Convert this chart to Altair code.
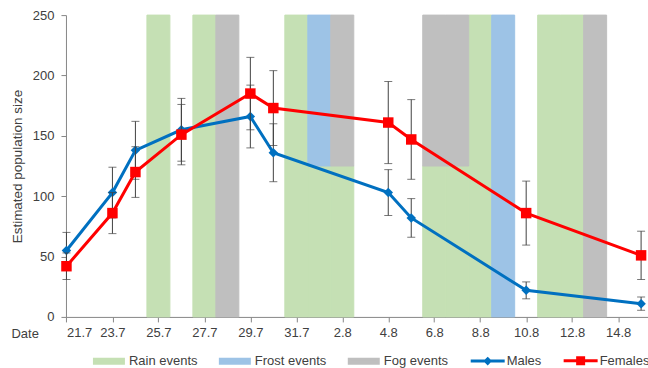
import altair as alt
import pandas as pd

# Survey days, counted from 21 July (day 0)
days = [0, 2, 3, 5, 8, 9, 14, 15, 20, 25]
males = [55, 103, 138, 155, 166, 136, 103, 82, 22, 11]
male_err = [15, 21, 24, 26, 26, 24, 19, 16, 7, 5.5]
females = [42, 86, 120, 151, 185, 173, 161, 147, 86, 51]
female_err = [11, 17, 21, 25, 30, 31, 34, 33, 26.5, 20]

# Weather events per day (stacked column heights)
event_days = [4, 6, 7, 10, 11, 12, 16, 17, 18, 19, 21, 22, 23]
rain = [250, 250, 0, 250, 125, 125, 125, 125, 250, 0, 250, 250, 0]
frost = [0, 0, 0, 0, 125, 0, 0, 0, 0, 250, 0, 0, 0]
fog = [0, 0, 250, 0, 0, 125, 125, 125, 0, 0, 0, 0, 250]

tick_days = [0, 2, 4, 6, 8, 10, 12, 14, 16, 18, 20, 22, 24]
tick_labels = ["21.7", "23.7", "25.7", "27.7", "29.7", "31.7", "2.8",
               "4.8", "6.8", "8.8", "10.8", "12.8", "14.8"]
y_ticks = [0, 50, 100, 150, 200, 250]

series_names = ["Rain events", "Frost events", "Fog events", "Males", "Females"]
series_colors = ["#C5E0B4", "#9DC3E6", "#BFBFBF", "#0070C0", "#FF0000"]
COLOR = dict(zip(series_names, series_colors))

# Legend glyphs: wide patches for events, line with marker for the series
legend_shapes = [
    "M-1,-0.4H4.8V0.4H-1Z",
    "M-1,-0.4H4.8V0.4H-1Z",
    "M-1,-0.4H4.8V0.4H-1Z",
    "M-1.3,0H5.5M2.1,-0.45L2.55,0L2.1,0.45L1.65,0Z",
    "M-1.3,0H5.5M1.5,-0.6H2.7V0.6H1.5Z",
]

FONT = "Liberation Sans"
TEXT = "#404040"
AXIS = "#868686"
BAR = "#404040"
PX_PER_DAY = 23
X_MIN = -0.5 / PX_PER_DAY   # half a pixel, so day columns meet on whole pixels
X_MAX = 25.3

# Stacked event columns: rain at the bottom, then frost, then fog
rows = []
for d, r, fr, fg in zip(event_days, rain, frost, fog):
    base = 0
    for name, v in (("Rain events", r), ("Frost events", fr), ("Fog events", fg)):
        if v > 0:
            rows.append({"x0": d - 0.5, "x1": d + 0.5, "y0": base, "y1": base + v, "series": name})
            base += v
events = pd.DataFrame(rows)

pop = pd.DataFrame(
    [{"day": d, "value": v, "lo": v - e, "hi": v + e, "series": "Males"}
     for d, v, e in zip(days, males, male_err)]
    + [{"day": d, "value": v, "lo": v - e, "hi": v + e, "series": "Females"}
       for d, v, e in zip(days, females, female_err)]
)

label_expr = "[" + ",".join(f"'{t}'" for t in tick_labels) + "][indexof([" + \
    ",".join(str(t) for t in tick_days) + "], datum.value)]"

x_axis = alt.Axis(
    values=tick_days, labelExpr=label_expr, grid=False,
    tickSize=5, labelPadding=5, domainColor=AXIS, tickColor=AXIS,
    labelColor=TEXT, labelFont=FONT, labelFontSize=13,
    title="Date", titleAngle=0, titleX=-55, titleY=21, titleAlign="left",
    titleBaseline="alphabetic", titleFont=FONT, titleFontSize=13,
    titleFontWeight="normal", titleColor=TEXT,
)
y_axis = alt.Axis(
    values=y_ticks, grid=False, tickSize=5, labelPadding=7,
    domainColor=AXIS, tickColor=AXIS, labelColor=TEXT, labelFont=FONT,
    labelFontSize=13, title="Estimated population size", titleAngle=-90,
    titleX=-48, titleY=151, titleAlign="center", titleBaseline="middle",
    titleFont=FONT, titleFontSize=13.5, titleFontWeight="normal", titleColor=TEXT,
)

x_scale = alt.Scale(domain=[X_MIN, X_MAX], nice=False, zero=False)
y_scale = alt.Scale(domain=[0, 250], nice=False)


def X(field):
    return alt.X(field, scale=x_scale, axis=x_axis)


def Y(field):
    return alt.Y(field, scale=y_scale, axis=y_axis)


def band_layer(name):
    # a hairline of the fill colour closes the gaps between neighbouring columns
    c = COLOR[name]
    return alt.Chart(events).transform_filter(alt.datum.series == name).mark_rect(
        color=c, stroke=c, strokeWidth=1).encode(
        x=X("x0:Q"), x2="x1:Q", y=Y("y0:Q"), y2="y1:Q")


def series_layers(name, shape, size):
    c = COLOR[name]
    base = alt.Chart(pop).transform_filter(alt.datum.series == name)
    bars = base.mark_rule(color=BAR, strokeWidth=1).encode(
        x=X("day:Q"), y=Y("lo:Q"), y2="hi:Q")
    caps_hi = base.mark_tick(orient="horizontal", size=8, thickness=1, color=BAR).encode(
        x=X("day:Q"), y=Y("hi:Q"))
    caps_lo = base.mark_tick(orient="horizontal", size=8, thickness=1, color=BAR).encode(
        x=X("day:Q"), y=Y("lo:Q"))
    line = base.mark_line(strokeWidth=3, color=c).encode(x=X("day:Q"), y=Y("value:Q"))
    pts = base.mark_point(filled=True, shape=shape, size=size, opacity=1, color=c).encode(
        x=X("day:Q"), y=Y("value:Q"))
    return [bars, caps_hi, caps_lo, line, pts]


# Legend-only layer: its rows are filtered out, only the scales remain
fill_scale = alt.Scale(domain=series_names, range=series_colors)
stroke_scale = alt.Scale(domain=series_names, range=series_colors)
shape_scale = alt.Scale(domain=series_names, range=legend_shapes)

legend = alt.Legend(
    title=None, orient="none", legendX=27, legendY=339, direction="horizontal",
    columns=5, columnPadding=16, symbolSize=100, symbolStrokeWidth=3,
    symbolOpacity=1, labelOffset=23, labelFont=FONT, labelFontSize=13,
    labelColor=TEXT, padding=0, labelLimit=0,
)

legend_layer = alt.Chart(pd.DataFrame({"series": series_names})).transform_filter(
    "false"
).mark_point(filled=True, strokeWidth=3).encode(
    fill=alt.Fill("series:N", scale=fill_scale, legend=legend),
    stroke=alt.Stroke("series:N", scale=stroke_scale, legend=legend),
    shape=alt.Shape("series:N", scale=shape_scale, legend=legend),
)

chart = alt.layer(
    band_layer("Rain events"),
    band_layer("Frost events"),
    band_layer("Fog events"),
    *series_layers("Males", "diamond", 90),
    *series_layers("Females", "square", 110),
    legend_layer,
).properties(
    width=(X_MAX - X_MIN) * PX_PER_DAY,
    height=302,
    autosize=alt.AutoSizeParams(type="none"),
    padding={"left": 66, "top": 15, "right": 0, "bottom": 51},
).configure_view(stroke=None)

chart.save("out.html", embed_options={"renderer": "svg", "actions": False})
